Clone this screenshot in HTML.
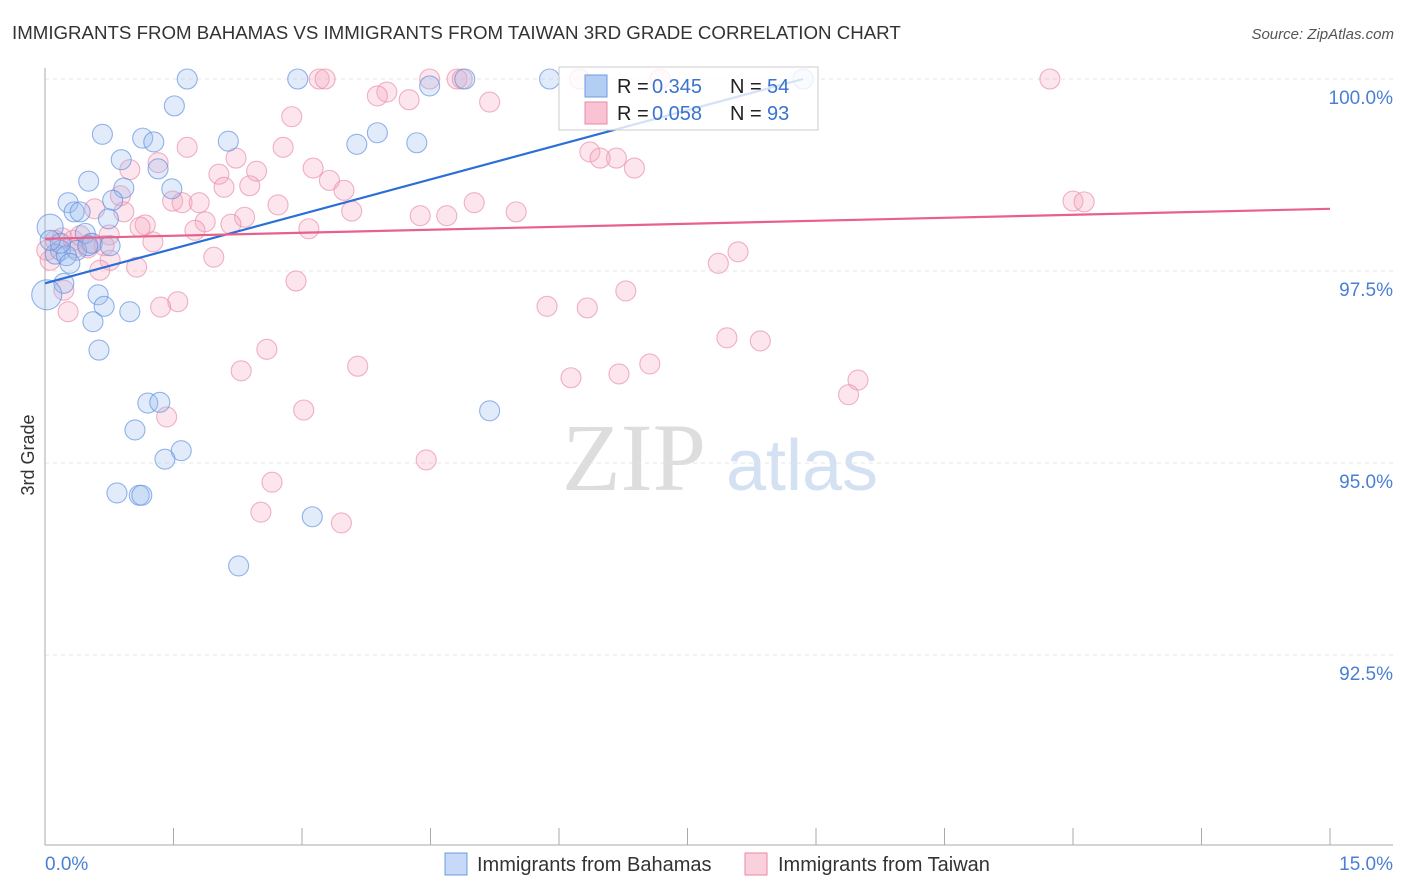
<!DOCTYPE html>
<html><head><meta charset="utf-8"><style>
body{margin:0;background:#fff;font-family:"Liberation Sans",sans-serif}
</style></head><body>
<svg id="chart" width="1406" height="892" xmlns="http://www.w3.org/2000/svg" style="display:block">
<text x="12" y="39" font-size="18.7" fill="#333">IMMIGRANTS FROM BAHAMAS VS IMMIGRANTS FROM TAIWAN 3RD GRADE CORRELATION CHART</text>
<text x="1394" y="39" font-size="15" fill="#555" font-style="italic" text-anchor="end">Source: ZipAtlas.com</text>
<g>
<text x="634" y="490" font-size="96" fill="#ddd" text-anchor="middle" font-family="Liberation Serif,serif">ZIP</text>
<text x="802" y="490" font-size="72" fill="#d3e1f3" text-anchor="middle">atlas</text>
</g>
<g id="grid"></g>
<g id="axes"></g>
<g id="pts"></g>
<g id="trends"></g>
<g>
<rect x="559" y="67" width="259" height="63" fill="#fff" fill-opacity="0.8" stroke="#ccc"/>
<rect x="585" y="75" width="22" height="22" fill="#b4cdf3" stroke="#6b9be0"/>
<rect x="585" y="102" width="22" height="22" fill="#f9c3d3" stroke="#e88aa8"/>
<text x="617" y="93" font-size="20" fill="#222">R =</text>
<text x="652" y="93" font-size="20" fill="#3a73d0">0.345</text>
<text x="730" y="93" font-size="20" fill="#222">N =</text>
<text x="767" y="93" font-size="20" fill="#3a73d0">54</text>
<text x="617" y="120" font-size="20" fill="#222">R =</text>
<text x="652" y="120" font-size="20" fill="#3a73d0">0.058</text>
<text x="730" y="120" font-size="20" fill="#222">N =</text>
<text x="767" y="120" font-size="20" fill="#3a73d0">93</text>
</g>
<text transform="translate(34,455) rotate(-90)" font-size="18" fill="#333" text-anchor="middle">3rd Grade</text>
<text x="45" y="870" font-size="19" fill="#4a7fd4">0.0%</text>
<text x="1393" y="870" font-size="19" fill="#4a7fd4" text-anchor="end">15.0%</text>
<g>
<rect x="445" y="853" width="22" height="22" fill="#c6d9f6" stroke="#6b9be0"/>
<text x="477" y="871" font-size="20" fill="#333">Immigrants from Bahamas</text>
<rect x="745" y="853" width="22" height="22" fill="#fbd0dd" stroke="#e88aa8"/>
<text x="778" y="871" font-size="20" fill="#333">Immigrants from Taiwan</text>
</g>
</svg>
<script>
const yTicks=[100,97.5,95,92.5];
const yTickLabels=["100.0%","97.5%","95.0%","92.5%"];
const xTicks=[0,1.5,3,4.5,6,7.5,9,10.5,12,13.5,15];
const bahamasX=[1.66,2.95,4.90,5.89,8.85,4.49,1.51,0.67,1.14,1.27,2.14,3.64,3.88,4.34,0.89,1.32,0.51,1.48,0.92,0.27,0.79,0.34,0.41,0.74,0.06,0.47,0.18,0.37,0.12,0.25,0.55,0.29,0.22,0.62,0.69,0.99,0.56,0.63,0.02,1.20,1.34,1.05,1.59,1.40,0.84,1.10,1.13,5.19,3.12,2.26,0.76,0.50,0.18,0.06];
const bahamasY=[100,100,100,100,100,99.91,99.65,99.28,99.23,99.18,99.19,99.15,99.30,99.17,98.95,98.83,98.67,98.57,98.58,98.39,98.42,98.27,98.27,98.18,98.07,97.99,97.77,97.77,97.72,97.70,97.86,97.60,97.34,97.19,97.04,96.97,96.84,96.47,97.19,95.78,95.79,95.43,95.16,95.05,94.61,94.58,94.58,95.68,94.30,93.66,97.83,97.83,97.86,97.90];
const bahamasR=[10,10,10,10,10,10,10,10,10,10,10,10,10,10,10,10,10,10,10,10,10,10,10,10,13,10,10,10,10,10,10,10,10,10,10,10,10,10,15,10,10,10,10,10,10,10,10,10,10,10,10,10,10,10];
const taiwanX=[3.20,3.27,4.49,4.81,4.87,6.24,7.18,11.73,3.99,3.88,4.25,5.19,2.88,1.66,2.78,2.23,1.32,6.36,6.67,6.48,6.88,3.13,2.47,2.03,3.32,0.99,2.09,2.39,3.49,0.88,0.58,0.92,1.49,1.60,1.80,2.72,3.58,4.38,4.69,5.01,5.50,12.0,12.13,2.33,1.87,2.17,1.17,1.11,1.75,3.08,0.75,0.20,0.12,0.33,0.53,0.69,1.26,0.35,0.50,1.97,0.76,0.64,1.07,8.09,7.86,2.93,0.22,1.55,1.35,5.86,6.33,6.78,0.27,7.96,8.35,2.59,3.65,2.29,6.14,6.70,7.06,9.49,9.38,3.02,1.42,4.45,2.65,2.52,3.46,0.06,0.02,0.41];
const taiwanY=[100,100,100,100,100,100,100,100,99.83,99.78,99.73,99.70,99.51,99.11,99.11,98.97,98.91,99.05,98.97,98.97,98.84,98.84,98.80,98.76,98.68,98.82,98.59,98.61,98.55,98.48,98.31,98.27,98.41,98.39,98.39,98.36,98.28,98.22,98.22,98.39,98.27,98.41,98.40,98.20,98.14,98.11,98.10,98.07,98.03,98.05,97.97,97.93,97.90,97.90,97.86,97.83,97.88,97.80,97.80,97.68,97.64,97.51,97.55,97.75,97.60,97.37,97.25,97.10,97.03,97.04,97.02,97.24,96.97,96.63,96.59,96.48,96.26,96.20,96.11,96.16,96.29,96.08,95.89,95.69,95.60,95.04,94.75,94.36,94.22,97.64,97.77,97.96];
const trendBahamas=[[0,97.34],[8.85,100]];
const trendTaiwan=[[0,97.92],[15,98.31]];
const NS="http://www.w3.org/2000/svg";
const X=v=>45+v*(1285/15);
const Y=v=>79+(100-v)*76.8;
function mk(tag,attrs,parent){const e=document.createElementNS(NS,tag);for(const k in attrs)e.setAttribute(k,attrs[k]);parent.appendChild(e);return e;}
const grid=document.getElementById('grid'),axes=document.getElementById('axes'),pts=document.getElementById('pts'),tr=document.getElementById('trends');
yTicks.forEach((t,i)=>{
  const l=mk('line',{x1:45,x2:1393,y1:Y(t),y2:Y(t),stroke:'#e4e4e4','stroke-dasharray':'4,4'},grid);
  
  
  const tx=mk('text',{x:1393,y:Y(t)+25,'font-size':19,fill:'#4a7fd4','text-anchor':'end'},axes);
  tx.textContent=yTickLabels[i];
  
  
});
const ya=mk('line',{x1:45,x2:45,y1:68,y2:845,stroke:'#aaa'},axes);


const xa=mk('line',{x1:45,x2:1393,y1:845,y2:845,stroke:'#aaa'},axes);


xTicks.forEach(t=>{
  const l=mk('line',{x1:X(t),x2:X(t),y1:828,y2:845,stroke:'#aaa'},axes);
  
  
});
function series(xs,ys,rs,fill,stroke,name){
  xs.forEach((x,i)=>{
    const c=mk('circle',{cx:X(x),cy:Y(ys[i]),r:rs?rs[i]:10,fill:fill,'fill-opacity':0.3,stroke:stroke,'stroke-opacity':0.65,'stroke-width':1.1},pts);
    
    
  });
}
series(taiwanX,taiwanY,null,'#f5a9c0','#e88aa8','taiwan-point');
series(bahamasX,bahamasY,bahamasR,'#9dbdee','#5b8de0','bahamas-point');
const lb=mk('line',{x1:X(trendBahamas[0][0]),y1:Y(trendBahamas[0][1]),x2:X(trendBahamas[1][0]),y2:Y(trendBahamas[1][1]),stroke:'#2b6fd6','stroke-width':2.2},tr);


const lt=mk('line',{x1:X(trendTaiwan[0][0]),y1:Y(trendTaiwan[0][1]),x2:X(trendTaiwan[1][0]),y2:Y(trendTaiwan[1][1]),stroke:'#e8608c','stroke-width':2.2},tr);


</script>
</body></html>
